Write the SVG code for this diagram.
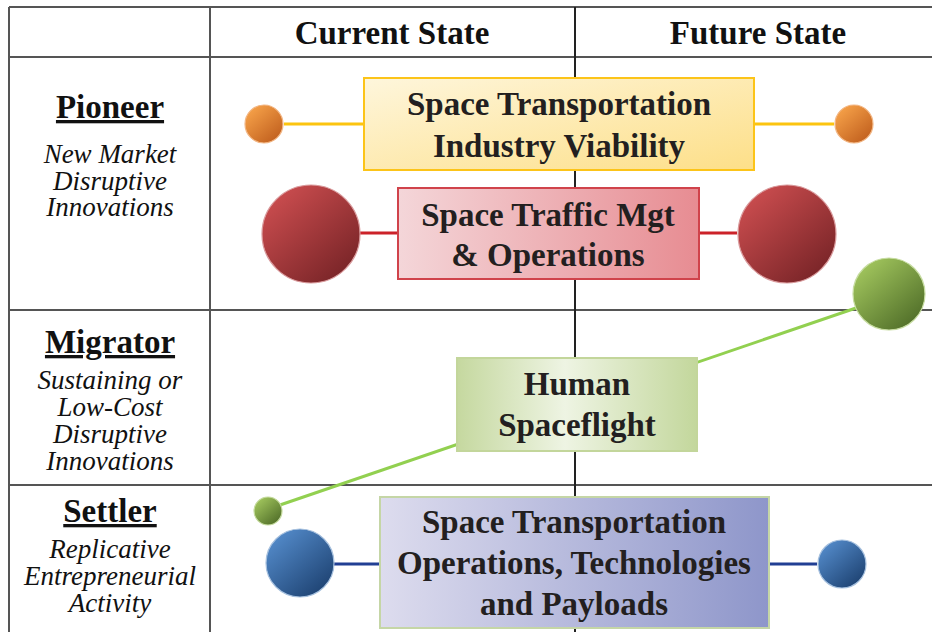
<svg xmlns="http://www.w3.org/2000/svg" width="932" height="632" viewBox="0 0 932 632">
<defs>
<linearGradient id="gYellow" x1="0" y1="0" x2="1" y2="1">
<stop offset="0" stop-color="#fef6dc"/><stop offset="1" stop-color="#fddf88"/>
</linearGradient>
<linearGradient id="gRed" x1="0" y1="0" x2="1" y2="0">
<stop offset="0" stop-color="#f4d6d9"/><stop offset="1" stop-color="#e78c92"/>
</linearGradient>
<linearGradient id="gGreen" x1="0" y1="0" x2="1" y2="0">
<stop offset="0" stop-color="#c5d89f"/><stop offset="0.45" stop-color="#eef4e3"/><stop offset="1" stop-color="#c3d79c"/>
</linearGradient>
<linearGradient id="gBlue" x1="0" y1="0" x2="1" y2="0">
<stop offset="0" stop-color="#dddcee"/><stop offset="1" stop-color="#8e96ca"/>
</linearGradient>
<linearGradient id="bOrange" x1="0.15" y1="0.1" x2="0.85" y2="0.9">
<stop offset="0" stop-color="#f5a048"/><stop offset="1" stop-color="#c2611f"/>
</linearGradient>
<linearGradient id="bRed" x1="0.15" y1="0.1" x2="0.85" y2="0.9">
<stop offset="0" stop-color="#c94c4e"/><stop offset="1" stop-color="#7a2528"/>
</linearGradient>
<linearGradient id="bGreen" x1="0.15" y1="0.1" x2="0.85" y2="0.9">
<stop offset="0" stop-color="#a0c45c"/><stop offset="1" stop-color="#52702a"/>
</linearGradient>
<linearGradient id="bBlue" x1="0.15" y1="0.1" x2="0.85" y2="0.9">
<stop offset="0" stop-color="#5289c8"/><stop offset="1" stop-color="#1f4474"/>
</linearGradient>
</defs>
<rect width="932" height="632" fill="#fff"/>

<g id="grid" stroke="#555" stroke-width="2" fill="none">
<line x1="9" y1="7" x2="932" y2="7"/>
<line x1="9" y1="57" x2="932" y2="57"/>
<line x1="9" y1="310" x2="932" y2="310"/>
<line x1="9" y1="485" x2="932" y2="485"/>
<line x1="9" y1="7" x2="9" y2="632"/>
<line x1="210" y1="7" x2="210" y2="632"/>
<line x1="575" y1="7" x2="575" y2="632" stroke="#222"/>
</g>

<g id="headers">
<text x="392" y="44" font-family="Liberation Serif" font-size="33" font-weight="bold" fill="#111" text-anchor="middle">Current State</text>
<text x="758" y="44" font-family="Liberation Serif" font-size="33" font-weight="bold" fill="#111" text-anchor="middle">Future State</text>
</g>

<g id="pioneer">
<text x="110" y="118" font-family="Liberation Serif" font-size="33" font-weight="bold" fill="#111" text-anchor="middle" text-decoration="underline">Pioneer</text>
<text x="110" y="163" font-family="Liberation Serif" font-size="27" font-style="italic" fill="#111" text-anchor="middle">New Market</text>
<text x="110" y="190" font-family="Liberation Serif" font-size="27" font-style="italic" fill="#111" text-anchor="middle">Disruptive</text>
<text x="110" y="216" font-family="Liberation Serif" font-size="27" font-style="italic" fill="#111" text-anchor="middle">Innovations</text>
</g>
<g id="migrator">
<text x="110" y="353" font-family="Liberation Serif" font-size="33" font-weight="bold" fill="#111" text-anchor="middle" text-decoration="underline">Migrator</text>
<text x="110" y="389" font-family="Liberation Serif" font-size="27" font-style="italic" fill="#111" text-anchor="middle">Sustaining or</text>
<text x="110" y="416" font-family="Liberation Serif" font-size="27" font-style="italic" fill="#111" text-anchor="middle">Low-Cost</text>
<text x="110" y="443" font-family="Liberation Serif" font-size="27" font-style="italic" fill="#111" text-anchor="middle">Disruptive</text>
<text x="110" y="470" font-family="Liberation Serif" font-size="27" font-style="italic" fill="#111" text-anchor="middle">Innovations</text>
</g>
<g id="settler">
<text x="110" y="522" font-family="Liberation Serif" font-size="33" font-weight="bold" fill="#111" text-anchor="middle" text-decoration="underline">Settler</text>
<text x="110" y="558" font-family="Liberation Serif" font-size="27" font-style="italic" fill="#111" text-anchor="middle">Replicative</text>
<text x="110" y="585" font-family="Liberation Serif" font-size="27" font-style="italic" fill="#111" text-anchor="middle">Entrepreneurial</text>
<text x="110" y="612" font-family="Liberation Serif" font-size="27" font-style="italic" fill="#111" text-anchor="middle">Activity</text>
</g>

<g id="connectors" stroke-width="3">
<line x1="284" y1="124" x2="364" y2="124" stroke="#fcc40f"/>
<line x1="754" y1="124" x2="834" y2="124" stroke="#fcc40f"/>
<line x1="360" y1="233" x2="398" y2="233" stroke="#cc2229"/>
<line x1="699" y1="233" x2="737" y2="233" stroke="#cc2229"/>
<line x1="280" y1="505" x2="856" y2="308" stroke="#92d050"/>
<line x1="333" y1="564" x2="379" y2="564" stroke="#213f94"/>
<line x1="769" y1="564" x2="817" y2="564" stroke="#213f94"/>
</g>

<g id="node-viability">
<rect x="364" y="78" width="390" height="92" fill="url(#gYellow)" stroke="#fcc419" stroke-width="2"/>
<text x="559" y="115" font-family="Liberation Serif" font-size="33" font-weight="bold" fill="#231f20" text-anchor="middle">Space Transportation</text>
<text x="559" y="157" font-family="Liberation Serif" font-size="33" font-weight="bold" fill="#231f20" text-anchor="middle">Industry Viability</text>
<circle cx="264" cy="124" r="19" fill="url(#bOrange)" stroke="#f2b684" stroke-width="1.2"/>
<circle cx="854" cy="124" r="19" fill="url(#bOrange)" stroke="#f2b684" stroke-width="1.2"/>
</g>

<g id="node-traffic">
<rect x="398" y="188" width="301" height="91" fill="url(#gRed)" stroke="#d0434b" stroke-width="2"/>
<text x="548" y="226" font-family="Liberation Serif" font-size="33" font-weight="bold" fill="#231f20" text-anchor="middle">Space Traffic Mgt</text>
<text x="548" y="266" font-family="Liberation Serif" font-size="33" font-weight="bold" fill="#231f20" text-anchor="middle">&amp; Operations</text>
<circle cx="311" cy="234" r="49" fill="url(#bRed)" stroke="#d99a9c" stroke-width="1.2"/>
<circle cx="787" cy="234" r="49" fill="url(#bRed)" stroke="#d99a9c" stroke-width="1.2"/>
</g>

<g id="node-human">
<rect x="457" y="358" width="240" height="93" fill="url(#gGreen)" stroke="#c3d69b" stroke-width="2"/>
<text x="577" y="395" font-family="Liberation Serif" font-size="33" font-weight="bold" fill="#231f20" text-anchor="middle">Human</text>
<text x="577" y="436" font-family="Liberation Serif" font-size="33" font-weight="bold" fill="#231f20" text-anchor="middle">Spaceflight</text>
<circle cx="268" cy="511" r="14" fill="url(#bGreen)" stroke="#c6dca0" stroke-width="1.2"/>
<circle cx="889" cy="294" r="36" fill="url(#bGreen)" stroke="#c6dca0" stroke-width="1.2"/>
</g>

<g id="node-operations">
<rect x="380" y="497" width="389" height="131" fill="url(#gBlue)" stroke="#c5d6a6" stroke-width="2"/>
<text x="574" y="533" font-family="Liberation Serif" font-size="33" font-weight="bold" fill="#231f20" text-anchor="middle">Space Transportation</text>
<text x="574" y="574" font-family="Liberation Serif" font-size="33" font-weight="bold" fill="#231f20" text-anchor="middle">Operations, Technologies</text>
<text x="574" y="615" font-family="Liberation Serif" font-size="33" font-weight="bold" fill="#231f20" text-anchor="middle">and Payloads</text>
<circle cx="300" cy="563" r="34" fill="url(#bBlue)" stroke="#a6c0de" stroke-width="1.2"/>
<circle cx="842" cy="564" r="24" fill="url(#bBlue)" stroke="#a6c0de" stroke-width="1.2"/>
</g>
</svg>
